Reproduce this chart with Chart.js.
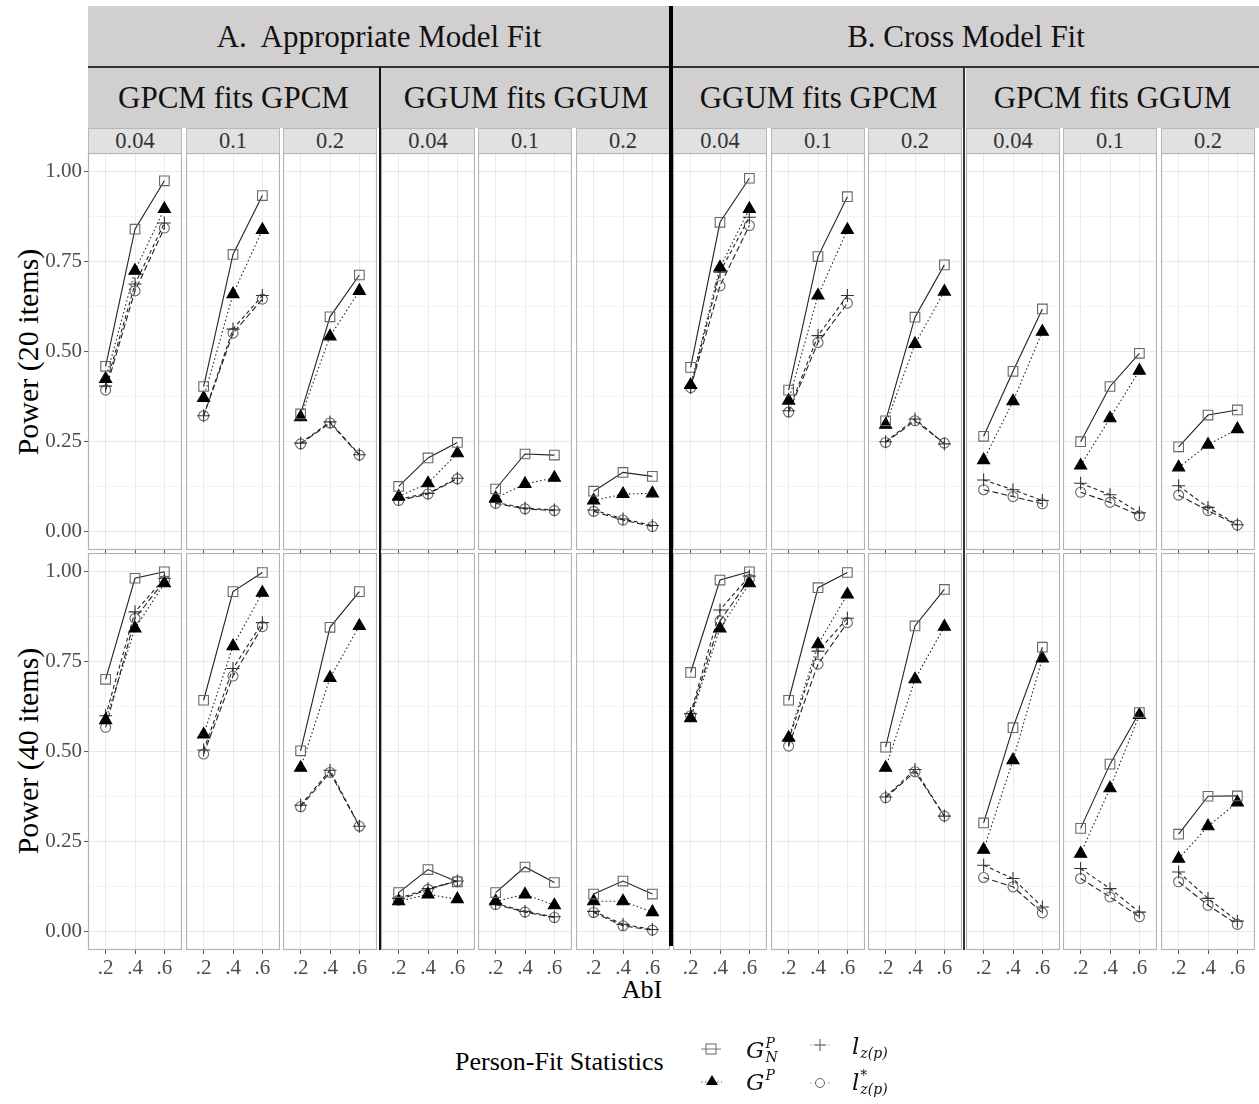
<!DOCTYPE html>
<html>
<head>
<meta charset="utf-8">
<script src="https://cdn.jsdelivr.net/npm/chart.js@4.4.1/dist/chart.umd.min.js"></script>
<style>
  body { margin: 0; background: #fff; width: 1259px; height: 1104px; position: relative; overflow: hidden;
         font-family: 'Liberation Serif', 'Times New Roman', serif; }
  .strip { position: absolute; background: #d1cfcf; display: flex; align-items: center; justify-content: center;
           color: #111; font-size: 31px; white-space: pre; }
  .pstrip { position: absolute; background: #e1e1e1; box-sizing: border-box; border: 1px solid #b8b8b8; border-bottom: none;
            display: flex; align-items: center; justify-content: center; font-size: 22.5px; color: #333; }
  .line { position: absolute; z-index: 5; }
  .txt { position: absolute; white-space: nowrap; }
  canvas { position: absolute; }
  .m { position: absolute; font-family: 'DejaVu Serif', serif; font-style: italic; font-size: 23px; color: #111;
       display: flex; align-items: center; }
  .ss { display: inline-flex; flex-direction: column; font-size: 14px; line-height: 14px; margin-left: 1px; }
</style>
</head>
<body>
<script>
// facet labels
const groupLabels = ['A.  Appropriate Model Fit', 'B. Cross Model Fit'];
const fitLabels = ['GPCM fits GPCM', 'GGUM fits GGUM', 'GGUM fits GPCM', 'GPCM fits GGUM'];
const rateLabels = ['0.04', '0.1', '0.2'];
const rowTitles = ['Power (20 items)', 'Power (40 items)'];
const xLabels = ['.2', '.4', '.6'];
const yMajor = [0, 0.25, 0.5, 0.75, 1];
const yMinor = [0.125, 0.375, 0.625, 0.875];

// power per panel (12 panels, left to right), values at AbI .2 .4 .6 -- 20 items
const gn20 = [[0.459,0.839,0.973],[0.403,0.769,0.932],[0.327,0.596,0.712],[0.126,0.205,0.248],[0.119,0.216,0.213],[0.113,0.165,0.154],
              [0.456,0.858,0.980],[0.393,0.763,0.929],[0.308,0.595,0.740],[0.265,0.445,0.618],[0.250,0.403,0.495],[0.236,0.324,0.338]];
const gp20 = [[0.424,0.724,0.895],[0.371,0.659,0.837],[0.318,0.542,0.668],[0.098,0.135,0.218],[0.094,0.133,0.150],[0.087,0.105,0.107],
              [0.407,0.733,0.895],[0.364,0.655,0.837],[0.297,0.521,0.666],[0.199,0.362,0.555],[0.184,0.315,0.447],[0.179,0.242,0.285]];
const lz20 = [[0.404,0.687,0.856],[0.322,0.562,0.655],[0.246,0.305,0.214],[0.091,0.107,0.149],[0.082,0.066,0.061],[0.061,0.036,0.018],
              [0.400,0.720,0.872],[0.336,0.544,0.655],[0.250,0.313,0.244],[0.144,0.117,0.087],[0.135,0.103,0.053],[0.128,0.068,0.020]];
const lzs20 = [[0.393,0.668,0.842],[0.322,0.551,0.645],[0.244,0.302,0.213],[0.087,0.105,0.147],[0.079,0.064,0.059],[0.057,0.033,0.015],
               [0.400,0.682,0.849],[0.332,0.525,0.634],[0.248,0.308,0.246],[0.117,0.098,0.078],[0.110,0.082,0.045],[0.102,0.059,0.019]];
// 40 items
const gn40 = [[0.700,0.980,0.998],[0.642,0.943,0.996],[0.502,0.844,0.943],[0.109,0.173,0.139],[0.109,0.180,0.137],[0.105,0.141,0.105],
              [0.719,0.975,0.998],[0.642,0.954,0.996],[0.512,0.848,0.949],[0.302,0.566,0.789],[0.287,0.465,0.608],[0.271,0.376,0.377]];
const gp40 = [[0.587,0.841,0.966],[0.547,0.792,0.940],[0.455,0.704,0.848],[0.085,0.104,0.091],[0.085,0.104,0.074],[0.085,0.085,0.055],
              [0.592,0.841,0.966],[0.538,0.797,0.935],[0.455,0.700,0.846],[0.228,0.476,0.758],[0.217,0.398,0.601],[0.203,0.293,0.359]];
const lz40 = [[0.599,0.887,0.980],[0.504,0.730,0.857],[0.351,0.448,0.293],[0.093,0.120,0.141],[0.079,0.057,0.042],[0.057,0.021,0.007],
              [0.605,0.892,0.986],[0.532,0.778,0.869],[0.374,0.450,0.321],[0.185,0.148,0.069],[0.176,0.120,0.055],[0.166,0.093,0.030]];
const lzs40 = [[0.567,0.869,0.973],[0.493,0.709,0.846],[0.347,0.442,0.293],[0.088,0.118,0.141],[0.076,0.055,0.040],[0.054,0.017,0.005],
               [0.599,0.862,0.977],[0.515,0.742,0.857],[0.372,0.444,0.321],[0.151,0.125,0.053],[0.148,0.097,0.042],[0.139,0.074,0.021]];

const rows = [[gn20, gp20, lz20, lzs20], [gn40, gp40, lz40, lzs40]];

// one style per statistic: G_N^P, G^P, l_z(p), l*_z(p)
const statStyles = [
  { pointStyle: 'rect', pointRadius: 6.8, pointBorderColor: '#666', pointBackgroundColor: 'rgba(0,0,0,0)', borderDash: [] },
  { pointStyle: 'triangle', pointRadius: 7, pointBorderColor: '#000', pointBackgroundColor: '#000', borderDash: [1.5, 2.5] },
  { pointStyle: 'cross', pointRadius: 6.5, pointBorderColor: '#333', pointBackgroundColor: 'rgba(0,0,0,0)', borderDash: [4, 3] },
  { pointStyle: 'circle', pointRadius: 5, pointBorderColor: '#666', pointBackgroundColor: 'rgba(0,0,0,0)', borderDash: [6, 3] }
];

const PX0 = 88, PSTEP = 97.5, PW = 94, PH = 397;
const rowTop = [153, 553];
const panelLeft = c => Math.round(PX0 + PSTEP * c);

function addDiv(cls, css, text) {
  const d = document.createElement('div');
  d.className = cls;
  Object.assign(d.style, css);
  if (text !== undefined) d.textContent = text;
  document.body.appendChild(d);
  return d;
}

// strips
addDiv('strip', { left: '88px', top: '6px', width: '582px', height: '61px' }, groupLabels[0]);
addDiv('strip', { left: '673px', top: '6px', width: '586px', height: '61px' }, groupLabels[1]);
fitLabels.forEach((lab, g) => {
  const l = panelLeft(3 * g);
  const r = g < 3 ? panelLeft(3 * g + 3) - 2 : 1259;
  addDiv('strip', { left: l + 'px', top: '68px', width: (r - l) + 'px', height: '60px' }, lab);
});
for (let c = 0; c < 12; c++) {
  addDiv('pstrip', { left: panelLeft(c) + 'px', top: '128px', width: PW + 'px', height: '25px' }, rateLabels[c % 3]);
}
// separators
addDiv('line', { left: '88px', top: '66px', width: '1171px', height: '2px', background: '#333' });
addDiv('line', { left: '379px', top: '67px', width: '2px', height: '883px', background: '#111' });
addDiv('line', { left: '669px', top: '6px', width: '4px', height: '940px', background: '#000' });
addDiv('line', { left: '963px', top: '67px', width: '2px', height: '883px', background: '#333' });

// axis titles
addDiv('txt', { left: '28px', top: '352px', fontSize: '30px', color: '#000', transform: 'translate(-50%,-50%) rotate(-90deg)' }, rowTitles[0]);
addDiv('txt', { left: '28px', top: '751px', fontSize: '30px', color: '#000', transform: 'translate(-50%,-50%) rotate(-90deg)' }, rowTitles[1]);
addDiv('txt', { left: '642px', top: '990px', fontSize: '26px', color: '#000', transform: 'translate(-50%,-50%)' }, 'AbI');

const panelBorder = {
  id: 'panelBorder',
  beforeDatasetsDraw(chart) {
    const a = chart.chartArea, ctx = chart.ctx;
    ctx.save();
    ctx.strokeStyle = '#b3b3b3';
    ctx.lineWidth = 1.2;
    ctx.strokeRect(a.left + 0.5, a.top + 0.5, a.right - a.left - 1, a.bottom - a.top - 1);
    ctx.restore();
  }
};

const tickFont = { family: "'Liberation Serif', serif", size: 21 };

function makePanel(r, c) {
  const padL = c === 0 ? 60 : 0;
  const padB = r === 1 ? 42 : 4;
  const cv = document.createElement('canvas');
  cv.width = PW + padL;
  cv.height = PH + padB;
  cv.style.left = (panelLeft(c) - padL) + 'px';
  cv.style.top = rowTop[r] + 'px';
  document.body.appendChild(cv);

  const datasets = rows[r].map((stat, s) => Object.assign({
    data: stat[c].map((v, i) => ({ x: i + 1, y: v })),
    borderColor: '#222',
    borderWidth: 1.1,
    pointBorderWidth: 1.1,
    tension: 0
  }, statStyles[s]));

  new Chart(cv, {
    type: 'line',
    data: { datasets },
    options: {
      responsive: false,
      animation: false,
      devicePixelRatio: 1,
      layout: { padding: 0, autoPadding: false },
      plugins: { legend: { display: false }, tooltip: { enabled: false } },
      scales: {
        x: {
          type: 'linear', min: 0.4, max: 3.6,
          afterBuildTicks: sc => { sc.ticks = xLabels.map((_, i) => ({ value: i + 1 })); },
          afterFit: sc => { sc.height = padB; sc.paddingLeft = 0; sc.paddingRight = 0; },
          ticks: { display: r === 1, callback: v => xLabels[v - 1], font: tickFont, color: '#4d4d4d', padding: 2, maxRotation: 0, autoSkip: false },
          grid: { color: '#ebebeb', lineWidth: 1, drawTicks: true, tickLength: r === 1 ? 4 : 3, tickColor: '#555' },
          border: { display: false }
        },
        y: {
          min: -0.05, max: 1.05,
          afterBuildTicks: sc => { sc.ticks = yMajor.concat(yMinor).sort((a, b) => a - b).map(v => ({ value: v })); },
          afterFit: sc => { sc.width = padL; sc.paddingTop = 0; sc.paddingBottom = 0; },
          ticks: { display: c === 0, callback: v => yMajor.includes(v) ? v.toFixed(2) : '', font: tickFont, color: '#4d4d4d', padding: 2 },
          grid: {
            color: ctx => ctx.tick && yMajor.includes(ctx.tick.value) ? '#e9e9e9' : '#f4f4f4',
            lineWidth: 1,
            drawTicks: c === 0,
            tickLength: 4,
            tickColor: ctx => ctx.tick && yMajor.includes(ctx.tick.value) ? '#555' : 'rgba(0,0,0,0)'
          },
          border: { display: false }
        }
      }
    },
    plugins: [panelBorder]
  });
}

for (let r = 0; r < 2; r++) for (let c = 0; c < 12; c++) makePanel(r, c);

// legend
addDiv('txt', { left: '455px', top: '1062px', fontSize: '26px', color: '#000', transform: 'translateY(-50%)' }, 'Person-Fit Statistics');
const keySvg = document.createElementNS('http://www.w3.org/2000/svg', 'svg');
keySvg.setAttribute('width', '1259');
keySvg.setAttribute('height', '1104');
keySvg.style.position = 'absolute';
keySvg.style.left = '0';
keySvg.style.top = '0';
keySvg.innerHTML = `
  <line x1="701" y1="1049" x2="721" y2="1049" stroke="#777" stroke-width="1"/>
  <rect x="706" y="1044" width="10" height="10" fill="none" stroke="#666" stroke-width="1"/>
  <line x1="701" y1="1082" x2="722" y2="1082" stroke="#555" stroke-width="1" stroke-dasharray="1.5 2.5"/>
  <polygon points="712,1075 718,1085 706,1085" fill="#000"/>
  <line x1="810" y1="1045" x2="830" y2="1045" stroke="#bbb" stroke-width="1" stroke-dasharray="3 3"/>
  <line x1="814" y1="1045" x2="826" y2="1045" stroke="#555" stroke-width="1"/>
  <line x1="820" y1="1039" x2="820" y2="1051" stroke="#555" stroke-width="1"/>
  <line x1="810" y1="1083" x2="830" y2="1083" stroke="#888" stroke-width="1" stroke-dasharray="1.5 3"/>
  <circle cx="820" cy="1083" r="4.5" fill="#fff" stroke="#666" stroke-width="1"/>
`;
document.body.appendChild(keySvg);
const lg1 = addDiv('m', { left: '746px', top: '1036px' });
lg1.innerHTML = 'G<span class="ss"><span>P</span><span>N</span></span>';
const lg2 = addDiv('m', { left: '746px', top: '1068px' });
lg2.innerHTML = 'G<span class="ss"><span>P</span><span>&nbsp;</span></span>';
const lg3 = addDiv('m', { left: '852px', top: '1032px' });
lg3.innerHTML = 'l<span class="ss"><span>&nbsp;</span><span>z(p)</span></span>';
const lg4 = addDiv('m', { left: '852px', top: '1068px' });
lg4.innerHTML = 'l<span class="ss"><span>*</span><span>z(p)</span></span>';
</script>
</body>
</html>
